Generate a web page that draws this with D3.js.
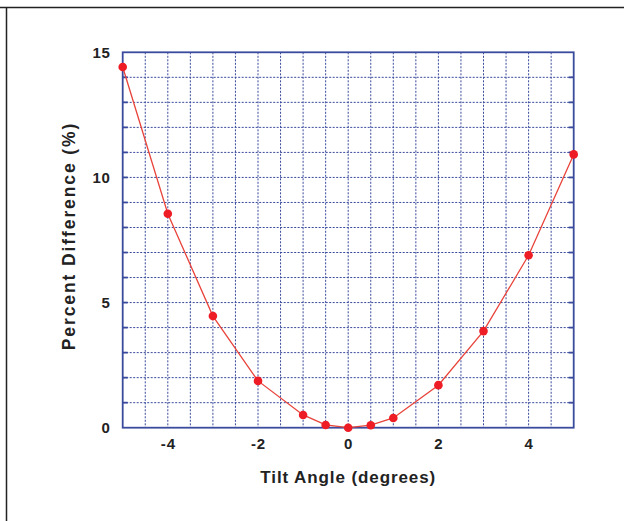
<!DOCTYPE html>
<html><head><meta charset="utf-8">
<script src="https://cdn.jsdelivr.net/npm/d3@7"></script>
<style>body{margin:0;background:#fff;} svg{display:block;}</style>
</head><body>
<svg id="c" width="624" height="521"></svg>
<script>
const tiltAngles = [-5, -4, -3, -2, -1, -0.5, 0, 0.5, 1, 2, 3, 4, 5];
const percentDiff = [14.41, 8.55, 4.46, 1.87, 0.51, 0.11, 0.0, 0.1, 0.39, 1.7, 3.86, 6.89, 10.92];
const xTicks = [-4, -2, 0, 2, 4];
const yTicks = [0, 5, 10, 15];
const xGrid = d3.range(-4.5, 5, 0.5);
const yGrid = d3.range(1, 15, 1);

const svg = d3.select("#c");
const m = {l: 122.7, r: 573.7, t: 52.3, b: 427.7};
const x = d3.scaleLinear().domain([-5, 5]).range([m.l, m.r]);
const y = d3.scaleLinear().domain([0, 15]).range([m.b, m.t]);
const blue = "#3a4a9c";
const font = "Liberation Sans, Arial, Helvetica, sans-serif";

// outer frame
svg.append("path").attr("d", "M0,7.5 H624 M6.5,7.5 V521").attr("stroke", "#222").attr("stroke-width", 1.5).attr("fill", "none");

// grid
svg.append("g").selectAll("line").data(xGrid).join("line")
  .attr("x1", d => x(d)).attr("x2", d => x(d)).attr("y1", m.t).attr("y2", m.b)
  .attr("stroke", blue).attr("stroke-width", 1).attr("stroke-dasharray", "2,1.5");
svg.append("g").selectAll("line").data(yGrid).join("line")
  .attr("y1", d => y(d)).attr("y2", d => y(d)).attr("x1", m.l).attr("x2", m.r)
  .attr("stroke", blue).attr("stroke-width", 1).attr("stroke-dasharray", "2,1.5");

// frame
svg.append("rect").attr("x", m.l).attr("y", m.t).attr("width", m.r - m.l).attr("height", m.b - m.t)
  .attr("fill", "none").attr("stroke", blue).attr("stroke-width", 1.8);

// tick marks inside
svg.append("g").selectAll("line").data(yGrid).join("line")
  .attr("x1", m.l).attr("x2", m.l + 5).attr("y1", d => y(d)).attr("y2", d => y(d))
  .attr("stroke", blue).attr("stroke-width", 1.8);
svg.append("g").selectAll("line").data(yGrid).join("line")
  .attr("x1", m.r).attr("x2", m.r - 5).attr("y1", d => y(d)).attr("y2", d => y(d))
  .attr("stroke", blue).attr("stroke-width", 1.8);

const fmt = d => String(d);
// axes labels
const xAxis = d3.axisBottom(x).tickValues(xTicks).tickSize(0).tickPadding(11).tickFormat(fmt);
const gx = svg.append("g").attr("transform", `translate(0,${m.b})`).call(xAxis);
gx.select(".domain").remove();
gx.selectAll("text").attr("font-family", font).attr("font-weight", "bold")
  .attr("font-size", 15).attr("letter-spacing", 0.8).attr("fill", "#222");
const yAxis = d3.axisLeft(y).tickValues(yTicks).tickSize(0).tickPadding(12).tickFormat(fmt);
const gy = svg.append("g").attr("transform", `translate(${m.l},0)`).call(yAxis);
gy.select(".domain").remove();
gy.selectAll("text").attr("font-family", font).attr("font-weight", "bold")
  .attr("font-size", 15).attr("letter-spacing", 0.8).attr("fill", "#222");

// titles
svg.append("text").attr("x", (m.l + m.r) / 2).attr("y", 483).attr("text-anchor", "middle")
  .attr("font-family", font).attr("font-weight", "bold").attr("font-size", 17).attr("letter-spacing", 0.9)
  .attr("fill", "#222").text("Tilt Angle (degrees)");
svg.append("text").attr("transform", `translate(74.5,236) rotate(-90)`).attr("text-anchor", "middle")
  .attr("font-family", font).attr("font-weight", "bold").attr("font-size", 17.5).attr("letter-spacing", 1.9)
  .attr("fill", "#222").text("Percent Difference (%)");

// line + points
const pts = tiltAngles.map((a, i) => [a, percentDiff[i]]);
svg.append("path").datum(pts)
  .attr("d", d3.line().x(d => x(d[0])).y(d => y(d[1])))
  .attr("fill", "none").attr("stroke", "#e8433a").attr("stroke-width", 1.3);
svg.append("g").selectAll("circle").data(pts).join("circle")
  .attr("cx", d => x(d[0])).attr("cy", d => y(d[1])).attr("r", 4.3)
  .attr("fill", "#ee1c24");
</script>
</body></html>
